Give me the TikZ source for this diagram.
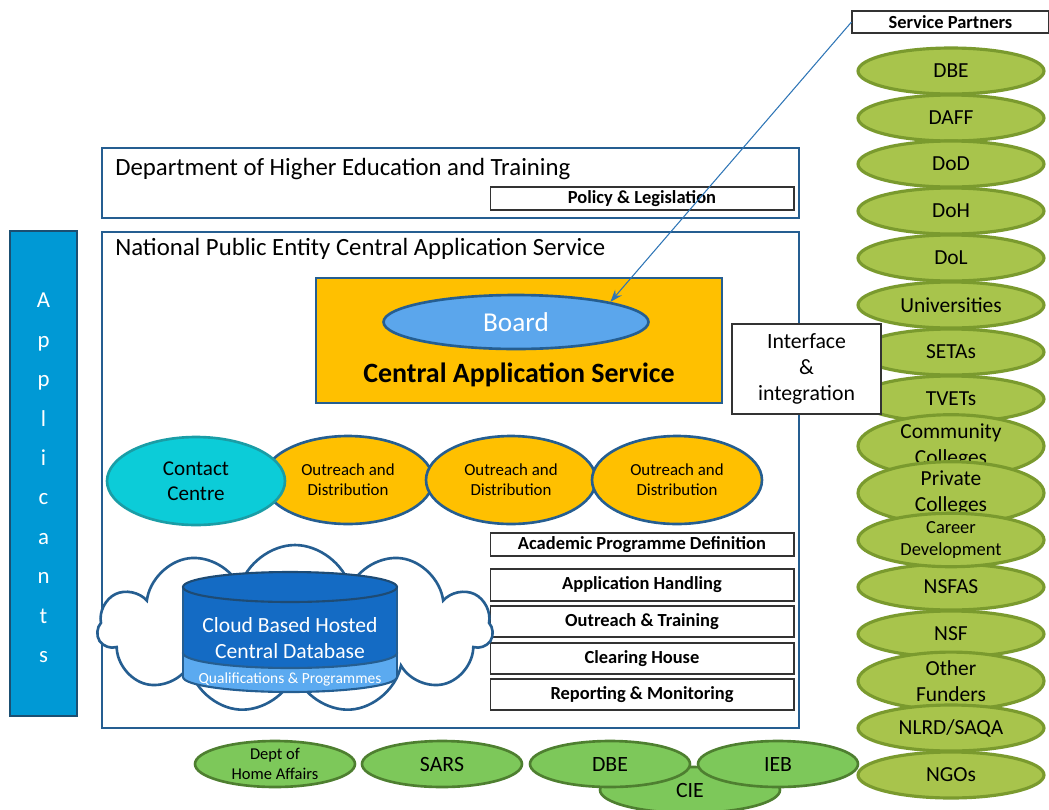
\documentclass[tikz,border=0pt]{standalone}
\usepackage{fontspec}
\setmainfont{Carlito}
\usetikzlibrary{shapes.geometric,shapes.symbols,arrows.meta}

\definecolor{frameBlue}{HTML}{255E91}
\definecolor{casYellow}{HTML}{FFC000}
\definecolor{boardBlue}{HTML}{5BA6EC}
\definecolor{dbDark}{HTML}{146BC4}
\definecolor{dbLight}{HTML}{5BAAF0}
\definecolor{contactCyan}{HTML}{0CCCD8}
\definecolor{contactEdge}{HTML}{1A9DA6}
\definecolor{partnerFill}{HTML}{A8C44C}
\definecolor{partnerEdge}{HTML}{7A9A2E}
\definecolor{agencyFill}{HTML}{7DC85A}
\definecolor{agencyEdge}{HTML}{4E7F30}
\definecolor{applicantFill}{HTML}{0099D5}
\definecolor{applicantEdge}{HTML}{1B4F72}
\definecolor{arrowBlue}{HTML}{2E75B6}

\begin{document}
\begin{tikzpicture}
[x=0.02cm,y=-0.02cm,
  frameDecorate/.style={shape=rectangle,draw=frameBlue,line width=1.6pt,inner sep=0pt},%
  titleDecorate/.style={anchor=west,inner sep=0pt,font=\fontsize{14.1}{16}\selectfont},%
  labelDecorate/.style={shape=rectangle,draw=black!80,line width=0.6pt,fill=white,inner sep=0pt,
    minimum width=6.08cm,font=\bfseries\fontsize{10.5}{12}\selectfont},%
  outreachDecorate/.style={shape=ellipse,draw=frameBlue,line width=1.5pt,fill=casYellow,
    minimum width=3.4cm,minimum height=1.76cm,inner sep=0pt,align=center,
    font=\fontsize{9.6}{11.5}\selectfont},%
  partnerDecorate/.style={shape=ellipse,draw=partnerEdge,line width=1.8pt,fill=partnerFill,
    minimum width=3.72cm,minimum height=0.92cm,inner sep=0pt,align=center,
    font=\fontsize{12.2}{14.7}\selectfont},%
  agencyDecorate/.style={shape=ellipse,draw=agencyEdge,line width=1.5pt,fill=agencyFill,
    minimum width=3.2cm,minimum height=0.92cm,inner sep=0pt,align=center,
    font=\fontsize{12.4}{14}\selectfont},%
  lineDecorate/.style={-{Stealth[length=7pt,width=5pt]},draw=arrowBlue,line width=0.6pt}]
\useasboundingbox (0,0) rectangle (1049,809);

%% applicants bar
\node (applicants) at (43.5,473.5) [shape=rectangle,draw=applicantEdge,line width=1.6pt,
  fill=applicantFill,minimum width=1.34cm,minimum height=9.7cm,inner sep=0pt] {};
\node (applicantsText) at (43.5,478) [text=white,align=center,
  font=\fontsize{13}{22.45}\selectfont]
  {A\\p\\p\\l\\i\\c\\a\\n\\t\\s};

%% department and entity frames
\node (dhet) at (450.5,183) [frameDecorate,minimum width=13.94cm,minimum height=1.4cm] {};
\node (dhetTitle) at (115,169) [titleDecorate] {Department of Higher Education and Training};
\node (policy) at (642,198.5) [labelDecorate,minimum height=0.46cm] {Policy \& Legislation};

\node (npecas) at (450.5,480) [frameDecorate,minimum width=13.94cm,minimum height=9.92cm] {};
\node (npecasTitle) at (115,249) [titleDecorate] {National Public Entity Central Application Service};

%% central application service
\node (cas) at (519,340.5) [frameDecorate,fill=casYellow,minimum width=8.12cm,minimum height=2.5cm] {};
\node (board) at (516,322) [shape=ellipse,draw=frameBlue,line width=1.5pt,fill=boardBlue,
  minimum width=5.3cm,minimum height=1.08cm,text=white,font=\fontsize{15.5}{17}\selectfont] {Board};
\node (casText) at (519,375) [font=\bfseries\fontsize{15.9}{18}\selectfont] {Central Application Service};

%% outreach chain
\foreach \nodename/\x in {outreachA/348, outreachB/511, outreachC/677}
{
  \node (\nodename) at (\x,480) [outreachDecorate] {Outreach and\\Distribution};
}
\node (contact) at (196,481) [shape=ellipse,draw=contactEdge,line width=1.5pt,fill=contactCyan,
  minimum width=3.56cm,minimum height=1.76cm,align=center,font=\fontsize{12}{14.5}\selectfont]
  {Contact\\Centre};

%% functions
\foreach \nodename/\y/\h/\name in {academic/544.5/0.46/Academic Programme Definition,
  handling/585/0.64/Application Handling, training/621.5/0.62/Outreach \& Training,
  clearing/658.5/0.62/Clearing House, reporting/694.5/0.62/Reporting \& Monitoring}
{
  \node (\nodename) at (642,\y) [labelDecorate,minimum height=\h cm] {\name};
}

%% cloud and database
\node (cloud) at (295,629) [shape=cloud,cloud puffs=11,cloud ignores aspect,draw=frameBlue,
  line width=1.5pt,fill=white,minimum width=7.9cm,minimum height=3.36cm] {};
\draw[frameBlue,line width=1.2pt,fill=dbLight] (290,677) ellipse [x radius=107,y radius=15];
\fill[dbLight] (183,653) rectangle (397,677);
\draw[frameBlue,line width=1.2pt] (183,653) -- (183,677) (397,653) -- (397,677);
\draw[frameBlue,line width=1.2pt,fill=dbDark] (290,653) ellipse [x radius=107,y radius=15];
\fill[dbDark] (183,587) rectangle (397,653);
\draw[frameBlue,line width=1.2pt] (183,587) -- (183,653) (397,587) -- (397,653);
\draw[frameBlue!80!black,line width=1.2pt,fill=dbDark] (290,587) ellipse [x radius=107,y radius=15];
\node (db) at (290,638) [text=white,align=center,font=\fontsize{12.3}{14.7}\selectfont]
  {Cloud Based Hosted\\Central Database};
\node (dbBand) at (290,679) [text=white,font=\fontsize{8.8}{10}\selectfont] {Qualifications \& Programmes};

%% service partners
\foreach \nodename/\y/\name in {pDBE/71/DBE, pDAFF/118/DAFF, pDoD/164/DoD, pDoH/211/DoH,
  pDoL/258/DoL, pUni/305/Universities, pSETA/352/SETAs, pTVET/399/TVETs,
  pCC/446/Community\\Colleges, pPC/493/Private\\Colleges,
  pNSFAS/587/NSFAS, pNSF/634/NSF, pOF/681/Other\\Funders, pNLRD/728/{NLRD/SAQA}, pNGO/775/NGOs}
{
  \node (\nodename) at (951,\y) [partnerDecorate] {\name};
}
\node (pCD) at (951,540) [partnerDecorate,font=\fontsize{10.5}{13}\selectfont] {Career\\Development};
\node (sp) at (950.5,22) [shape=rectangle,draw=black!80,line width=0.6pt,fill=white,
  minimum width=3.94cm,minimum height=0.44cm,inner sep=0pt,font=\bfseries\fontsize{10.5}{12}\selectfont]
  {Service Partners};
\node (interface) at (806.5,369) [shape=rectangle,draw=black!80,line width=0.6pt,fill=white,
  minimum width=2.98cm,minimum height=1.8cm,align=center,font=\fontsize{12.4}{14.7}\selectfont]
  {Interface\\\&\\integration};

%% government agencies
\node (cie) at (690,790) [agencyDecorate,minimum width=3.6cm] {CIE};
\foreach \nodename/\x/\name in {sars/442/SARS, bDBE/610/DBE, ieb/778/IEB}
{
  \node (\nodename) at (\x,764) [agencyDecorate] {\name};
}
\node (homeAffairs) at (275,764) [agencyDecorate,font=\fontsize{9.4}{11.5}\selectfont] {Dept of\\Home Affairs};

%% edges or lines
\draw[lineDecorate] (sp.west) -- (board.12);
\end{tikzpicture}
\end{document}
